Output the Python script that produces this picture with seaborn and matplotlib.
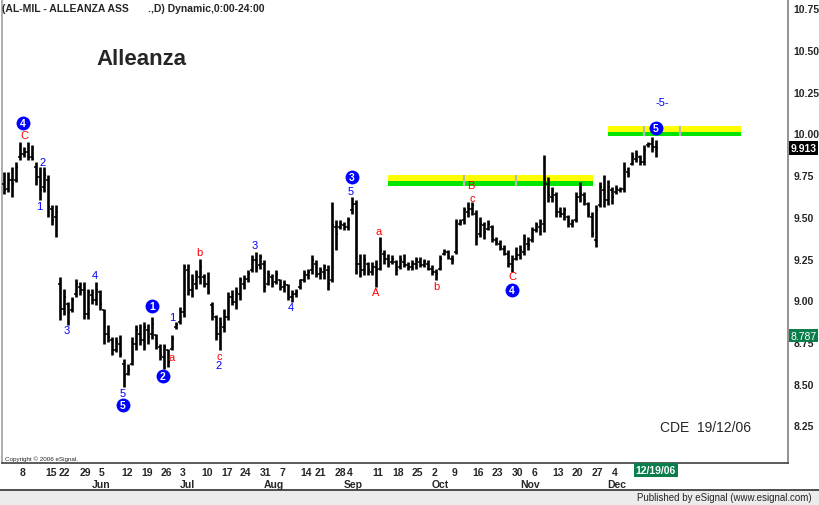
import matplotlib
matplotlib.use("Agg")
import matplotlib.pyplot as plt
import matplotlib.transforms as mtransforms
from matplotlib.patches import Rectangle
from matplotlib.lines import Line2D
import seaborn as sns

# ---------------- data (daily OHLC, ALLEANZA, May-Dec 2006) ----------------
high = [9.77, 9.77, 9.80, 9.83, 9.95, 9.92, 9.95, 9.93, 9.83, 9.80, 9.80, 9.75, 9.57, 9.57,
        9.14, 9.07, 8.99, 9.02, 9.13, 9.11, 9.11, 9.07, 9.07, 9.11, 9.06, 8.95, 8.85, 8.78,
        8.78, 8.79, 8.65, 8.62, 8.78, 8.85, 8.86, 8.87, 8.86, 8.90, 8.80, 8.74, 8.74, 8.71,
        8.79, 8.87, 8.96, 9.22, 9.22, 9.16, 9.18, 9.25, 9.16, 9.17, 8.99, 8.91, 8.90, 8.95,
        9.05, 9.06, 9.08, 9.14, 9.15, 9.18, 9.27, 9.29, 9.28, 9.24, 9.18, 9.16, 9.18, 9.13,
        9.12, 9.10, 9.06, 9.07, 9.13, 9.18, 9.19, 9.27, 9.24, 9.20, 9.22, 9.21, 9.59, 9.48,
        9.48, 9.47, 9.50, 9.62, 9.60, 9.28, 9.28, 9.23, 9.23, 9.24, 9.38, 9.30, 9.28, 9.27,
        9.24, 9.27, 9.28, 9.23, 9.24, 9.26, 9.26, 9.25, 9.24, 9.21, 9.19, 9.27, 9.31, 9.30,
        9.27, 9.49, 9.49, 9.56, 9.59, 9.59, 9.54, 9.50, 9.47, 9.48, 9.45, 9.38, 9.36, 9.33,
        9.30, 9.27, 9.32, 9.33, 9.40, 9.38, 9.44, 9.47, 9.49, 9.87, 9.74, 9.68, 9.65, 9.56,
        9.56, 9.51, 9.49, 9.65, 9.71, 9.65, 9.59, 9.53, 9.57, 9.71, 9.75, 9.72, 9.68, 9.69,
        9.68, 9.83, 9.80, 9.89, 9.90, 9.87, 9.93, 9.95, 9.98, 9.96]
low = [9.64, 9.65, 9.62, 9.71, 9.84, 9.86, 9.84, 9.84, 9.69, 9.60, 9.65, 9.50, 9.45, 9.38,
       8.88, 8.91, 8.85, 8.93, 9.02, 9.03, 8.89, 8.89, 8.98, 8.97, 8.94, 8.74, 8.75, 8.67,
       8.69, 8.66, 8.48, 8.55, 8.61, 8.70, 8.73, 8.70, 8.74, 8.77, 8.71, 8.64, 8.59, 8.60,
       8.70, 8.83, 8.86, 8.90, 9.03, 9.02, 9.07, 9.10, 9.08, 9.04, 8.88, 8.76, 8.70, 8.81,
       8.88, 8.97, 8.95, 9.00, 9.07, 9.11, 9.17, 9.17, 9.19, 9.05, 9.09, 9.08, 9.10, 9.06,
       9.05, 9.00, 8.99, 9.02, 9.07, 9.11, 9.13, 9.16, 9.14, 9.13, 9.13, 9.06, 9.11, 9.30,
       9.43, 9.42, 9.42, 9.52, 9.16, 9.14, 9.15, 9.15, 9.15, 9.08, 9.18, 9.22, 9.20, 9.22,
       9.15, 9.19, 9.20, 9.18, 9.18, 9.19, 9.20, 9.20, 9.18, 9.15, 9.12, 9.18, 9.27, 9.25,
       9.22, 9.28, 9.45, 9.46, 9.50, 9.51, 9.33, 9.38, 9.37, 9.42, 9.35, 9.33, 9.30, 9.27,
       9.20, 9.17, 9.24, 9.25, 9.27, 9.30, 9.35, 9.41, 9.39, 9.41, 9.59, 9.59, 9.50, 9.50,
       9.48, 9.44, 9.44, 9.47, 9.59, 9.57, 9.50, 9.38, 9.32, 9.56, 9.56, 9.57, 9.58, 9.64,
       9.65, 9.65, 9.74, 9.81, 9.83, 9.81, 9.81, 9.92, 9.89, 9.86]
open_ = [9.70, 9.67, 9.72, 9.72, 9.86, 9.88, 9.89, 9.86, 9.80, 9.74, 9.68, 9.72, 9.55, 9.50,
         9.10, 8.95, 8.98, 8.94, 9.04, 9.08, 9.06, 8.92, 9.03, 9.00, 9.05, 8.94, 8.80, 8.76,
         8.70, 8.74, 8.62, 8.56, 8.62, 8.74, 8.80, 8.76, 8.82, 8.80, 8.79, 8.72, 8.66, 8.70,
         8.71, 8.84, 8.87, 8.93, 9.18, 9.06, 9.10, 9.14, 9.14, 9.10, 8.97, 8.90, 8.80, 8.84,
         8.90, 9.02, 8.99, 9.04, 9.10, 9.13, 9.18, 9.24, 9.21, 9.22, 9.10, 9.14, 9.11, 9.12,
         9.08, 9.09, 9.02, 9.04, 9.08, 9.12, 9.15, 9.18, 9.22, 9.16, 9.17, 9.18, 9.12, 9.44,
         9.44, 9.45, 9.44, 9.54, 9.58, 9.22, 9.18, 9.22, 9.17, 9.20, 9.19, 9.28, 9.25, 9.23,
         9.23, 9.20, 9.23, 9.21, 9.20, 9.22, 9.23, 9.21, 9.22, 9.19, 9.17, 9.19, 9.28, 9.29,
         9.25, 9.29, 9.46, 9.48, 9.53, 9.55, 9.52, 9.40, 9.45, 9.43, 9.44, 9.36, 9.34, 9.31,
         9.28, 9.22, 9.25, 9.27, 9.29, 9.34, 9.36, 9.42, 9.44, 9.46, 9.70, 9.62, 9.63, 9.53,
         9.52, 9.50, 9.46, 9.48, 9.62, 9.63, 9.58, 9.50, 9.36, 9.57, 9.66, 9.60, 9.66, 9.65,
         9.66, 9.67, 9.77, 9.82, 9.85, 9.86, 9.83, 9.93, 9.94, 9.92]
close = [9.66, 9.72, 9.70, 9.80, 9.88, 9.89, 9.86, 9.85, 9.74, 9.66, 9.75, 9.56, 9.48, 9.53,
         8.95, 9.02, 8.93, 9.00, 9.10, 9.06, 8.92, 9.05, 9.00, 9.06, 8.98, 8.80, 8.78, 8.70,
         8.75, 8.68, 8.55, 8.58, 8.74, 8.82, 8.76, 8.84, 8.78, 8.86, 8.74, 8.67, 8.72, 8.63,
         8.77, 8.85, 8.93, 9.20, 9.06, 9.12, 9.15, 9.20, 9.10, 9.05, 8.92, 8.80, 8.86, 8.90,
         9.02, 8.99, 9.05, 9.12, 9.13, 9.16, 9.24, 9.20, 9.26, 9.08, 9.15, 9.10, 9.16, 9.08,
         9.10, 9.02, 9.04, 9.05, 9.12, 9.16, 9.17, 9.24, 9.16, 9.18, 9.20, 9.10, 9.45, 9.40,
         9.46, 9.44, 9.48, 9.58, 9.22, 9.18, 9.24, 9.18, 9.20, 9.18, 9.30, 9.25, 9.22, 9.25,
         9.18, 9.24, 9.21, 9.20, 9.22, 9.24, 9.21, 9.23, 9.19, 9.17, 9.16, 9.25, 9.29, 9.26,
         9.24, 9.47, 9.47, 9.54, 9.55, 9.57, 9.38, 9.46, 9.41, 9.46, 9.37, 9.35, 9.32, 9.28,
         9.22, 9.24, 9.27, 9.30, 9.36, 9.33, 9.42, 9.45, 9.47, 9.72, 9.63, 9.66, 9.53, 9.52,
         9.54, 9.47, 9.47, 9.62, 9.64, 9.60, 9.52, 9.40, 9.54, 9.68, 9.60, 9.68, 9.62, 9.67,
         9.67, 9.78, 9.76, 9.86, 9.87, 9.83, 9.90, 9.94, 9.92, 9.913]

week_labels = ["8", "15", "22", "29", "5", "12", "19", "26", "3", "10", "17", "24", "31",
               "7", "14", "21", "28", "4", "11", "18", "25", "2", "9", "16", "23", "30",
               "6", "13", "20", "27", "4"]
week_pos = [4, 10.25, 13.75, 19, 23.75, 29.25, 34.25, 39.25, 44, 49.25, 54.25, 59, 64,
            69, 74, 77.75, 82.75, 85.75, 92, 97, 102, 107, 112, 117, 122, 127,
            132, 137, 142, 147, 152]
month_labels = ["Jun", "Jul", "Aug", "Sep", "Oct", "Nov", "Dec"]
month_pos = [24.25, 45.75, 67.5, 87.25, 109, 131.5, 153.25]
price_ticks = [8.25, 8.50, 8.75, 9.00, 9.25, 9.50, 9.75, 10.00, 10.25, 10.50, 10.75]

# Elliott-wave annotations: (text, bar index, price)
circled = [("4", 4.75, 10.063), ("1", 37, 8.966), ("2", 39.75, 8.546), ("5", 29.75, 8.372),
           ("3", 87, 9.739), ("4", 127, 9.062), ("5", 163, 10.033)]
blue_text = [("2", 9.75, 9.829), ("1", 8.75, 9.565), ("3", 15.75, 8.822), ("4", 22.75, 9.152),
             ("5", 29.75, 8.444), ("1", 42, 8.900), ("2", 53.75, 8.612), ("3", 62.75, 9.331),
             ("4", 71.75, 8.960), ("5", 86.75, 9.655), ("-5-", 164.5, 10.189)]
red_text = [("C", 5, 9.991), ("a", 42, 8.660), ("b", 48.75, 9.290), ("c", 53.75, 8.666),
            ("A", 93, 9.050), ("a", 93.75, 9.415), ("b", 108, 9.086), ("B", 116.75, 9.691),
            ("c", 117, 9.613), ("C", 127, 9.146)]

# target bands: (x start, x end, yellow top, split, green bottom, gray marks)
bands = [(96, 147.25, 9.750, 9.718, 9.688, [115, 128]),
         (151, 184.25, 10.043, 10.011, 9.983, [160, 169])]

last_price = 9.913
other_price = 8.787

# ---------------- figure ----------------
sns.set_theme(style="white")
plt.rcParams["font.family"] = ["Liberation Sans", "DejaVu Sans"]

W, H = 819, 506
fig = plt.figure(figsize=(W / 100, H / 100), dpi=100)
fig.patch.set_facecolor("white")
L, R, T, B = 2, 788, 1, 464
ax = fig.add_axes([L / W, 1 - B / H, (R - L) / W, (B - T) / H])
ax.set_facecolor("white")

n = len(high)
idx = list(range(n))
ax.set_xlim(-0.5, (R - L) / 4 - 0.5)
ax.set_ylim(10 - (B - 134.5) / 166.8, 10 + (134.5 - T) / 166.8)

# bands
for x0, x1, ytop, ymid, ybot, marks in bands:
    ax.fill_between([x0, x1], ymid, ytop, color="#ffff00", lw=0, zorder=1)
    ax.fill_between([x0, x1], ybot, ymid, color="#00e600", lw=0, zorder=1)
    for m in marks:
        ax.plot([m, m], [ybot, ytop], color="#b8b8b8", lw=1.6, zorder=2,
                solid_capstyle="butt")

# OHLC bars
ax.vlines(idx, low, high, color="black", lw=1.9, zorder=3)
ax.hlines(open_, [i - 0.6 for i in idx], idx, color="black", lw=1.1, zorder=3)
ax.hlines(close, idx, [i + 0.6 for i in idx], color="black", lw=1.1, zorder=3)

# circled wave labels
sns.scatterplot(x=[c[1] for c in circled], y=[c[2] for c in circled], s=100,
                color="#0000ff", edgecolor="#0000ff", linewidth=0, zorder=5, ax=ax,
                legend=False)
for t, x, y in circled:
    ax.text(x, y, t, color="white", fontsize=7.5, fontweight="bold",
            ha="center", va="center", zorder=6)
for t, x, y in blue_text:
    ax.text(x, y, t, color="#0000ff", fontsize=8, ha="center", va="center", zorder=6)
for t, x, y in red_text:
    ax.text(x, y, t, color="#ff0000", fontsize=8, ha="center", va="center", zorder=6)

# titles inside the chart
ax.text(23, 10.447, "Alleanza", fontsize=16, fontweight="bold", ha="left", va="center")
ax.text(164, 8.240, "CDE  19/12/06", fontsize=10, ha="left", va="center")

# axes styling
ax.spines["top"].set_visible(False)
ax.spines["left"].set_color("#a0a0a0")
ax.spines["right"].set_color("#808080")
ax.spines["bottom"].set_color("#404040")
for s in ["left", "right", "bottom"]:
    ax.spines[s].set_linewidth(1.2)

ax.set_xticks(week_pos)
ax.set_xticklabels(week_labels, fontsize=7.5, fontweight="bold", ha="left")
ax.tick_params(axis="x", length=0, pad=3)
ax.yaxis.tick_right()
ax.set_yticks(price_ticks)
ax.set_yticklabels([f"{v:.2f}" for v in price_ticks], fontsize=7.5, fontweight="bold")
ax.tick_params(axis="y", length=0, pad=4)
ax.grid(False)

trans_xa = mtransforms.blended_transform_factory(ax.transData, ax.transAxes)
for m, p in zip(month_labels, month_pos):
    ax.text(p, -0.046, m, transform=trans_xa, fontsize=7.5, fontweight="bold",
            ha="center", va="center", clip_on=False)
ax.text(n - 1, -0.016, "12/19/06", transform=trans_xa, fontsize=7.5, fontweight="bold",
        color="white", ha="center", va="center", clip_on=False, zorder=7,
        bbox=dict(boxstyle="square,pad=0.2", fc="#0a7d4b", ec="none"))

trans_ay = mtransforms.blended_transform_factory(ax.transAxes, ax.transData)
ax.text(1.003, last_price, f"{last_price:.3f}", transform=trans_ay, fontsize=7.5,
        fontweight="bold", color="white", ha="left", va="center", clip_on=False, zorder=7,
        bbox=dict(boxstyle="square,pad=0.15", fc="black", ec="none"))
ax.text(1.003, other_price, f"{other_price:.3f}", transform=trans_ay,
        fontsize=7.5, color="white", ha="left", va="center", clip_on=False, zorder=7,
        bbox=dict(boxstyle="square,pad=0.15", fc="#0a7d4b", ec="none"))

# header & copyright
fig.text(2 / W, 1 - 9 / H, "(AL-MIL - ALLEANZA ASS", fontsize=7.5, fontweight="bold",
         ha="left", va="center")
fig.text(148 / W, 1 - 9 / H, ".,D) Dynamic,0:00-24:00", fontsize=7.5, fontweight="bold",
         ha="left", va="center")
fig.text(5 / W, 1 - 459 / H, "Copyright \u00a9 2006 eSignal.", fontsize=4.5,
         ha="left", va="center")

# status bar
fig.patches.append(Rectangle((0, 0), 1, 15 / H, transform=fig.transFigure,
                             fc="#ececec", ec="none", zorder=0))
fig.lines.append(Line2D([0, 1], [15 / H, 15 / H], transform=fig.transFigure,
                        color="#303030", lw=1.2))
fig.text(812 / W, 1 - 498 / H, "Published by eSignal (www.esignal.com)", fontsize=7,
         ha="right", va="center")

fig.savefig("out.png", dpi=100, facecolor="white")
